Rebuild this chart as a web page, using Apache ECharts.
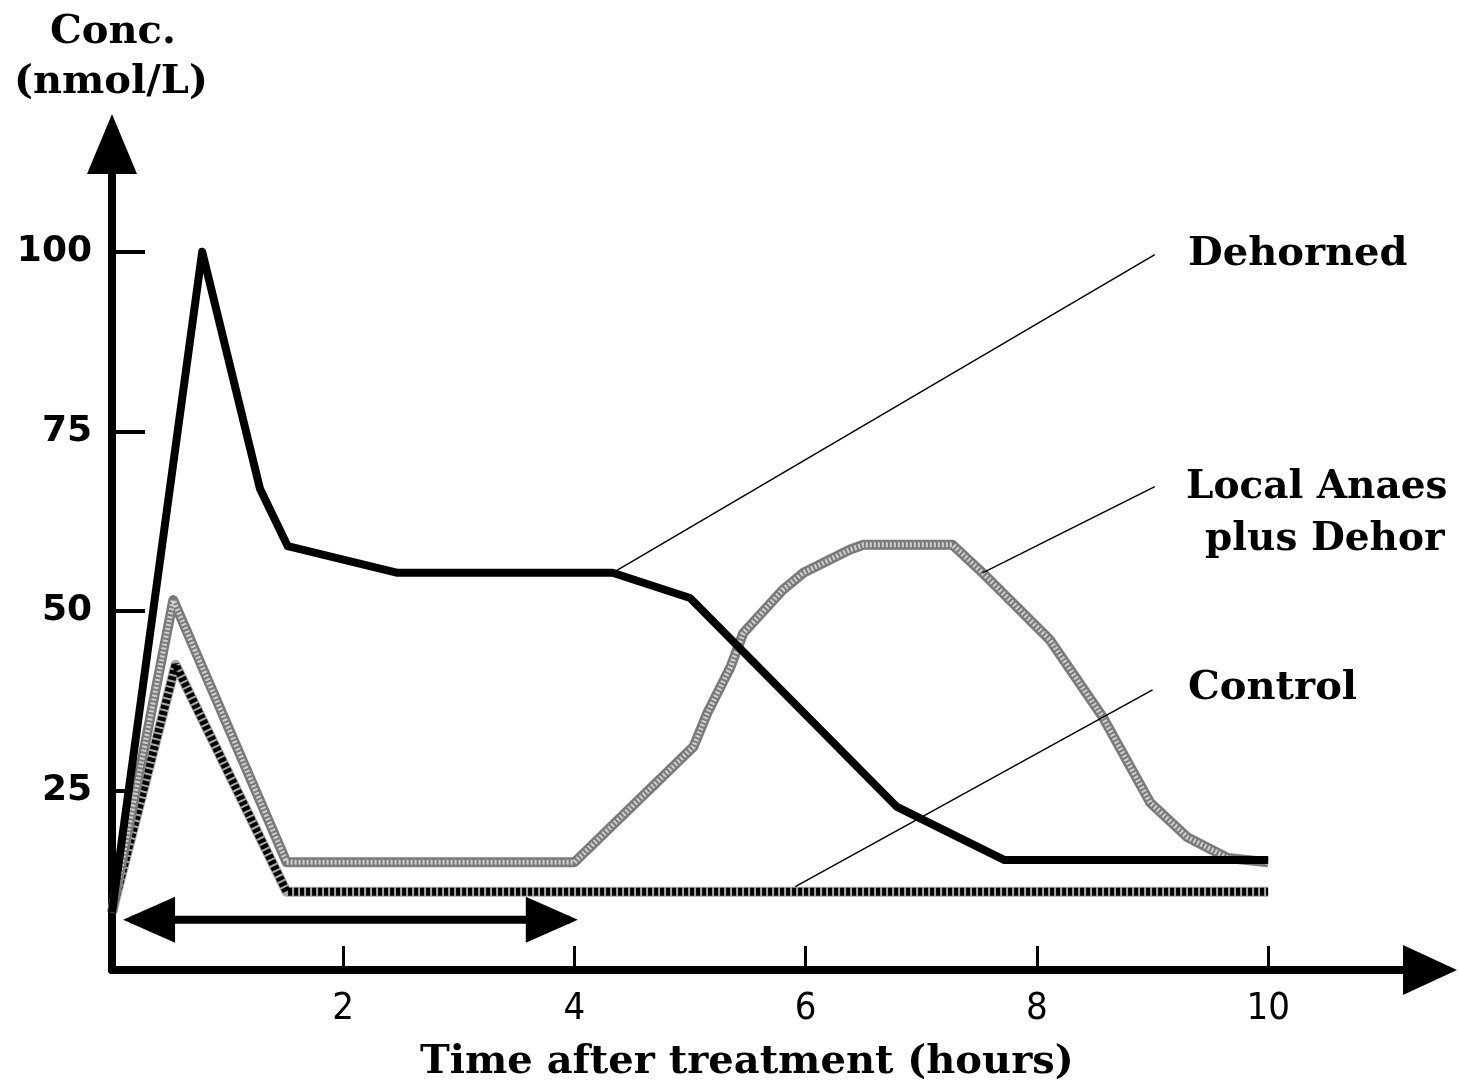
<!DOCTYPE html>
<html>
<head>
<meta charset="utf-8">
<style>
  html, body { margin: 0; padding: 0; background: #ffffff; }
  #chart { width: 1459px; height: 1091px; }
</style>
<script src="https://cdn.jsdelivr.net/npm/echarts@6/dist/echarts.min.js"></script>
</head>
<body>
<div id="chart"></div>
<script>
// ---------------- data ----------------
const timeDehorned = [0, 0.78, 1.28, 1.52, 2.47, 4.33, 5.0, 6.79, 7.72, 10.0];
const concDehorned = [8, 100, 67, 59, 55.3, 55.3, 51.8, 22.7, 15.3, 15.3];

const timeLocal = [0, 0.53, 1.51, 4.0, 5.03, 5.15, 5.35, 5.46, 5.8, 5.98, 6.38, 6.5, 7.27, 7.53, 8.11, 8.57, 8.98, 9.3, 9.65, 10.0];
const concLocal = [8, 51.5, 15, 15, 31.1, 35.8, 42.2, 46.9, 52.9, 55.3, 58.5, 59.2, 59.2, 55.3, 46, 35.2, 23.3, 18.5, 15.6, 15];

const timeControl = [0, 0.55, 1.51, 10.0];
const concControl = [8, 42.5, 10.9, 10.9];

// label leader lines: [time, conc] start (on curve) and end (near label)
const leaderDehorned = [[4.33, 55.3], [9.02, 99.6]];
const leaderLocal = [[7.53, 55.3], [9.02, 67.3]];
const leaderControl = [[5.91, 11.6], [9.0, 39.0]];

// treatment-period double arrow
const arrowSpan = [0.165, 3.96];
const arrowLevel = 7;

const yTicks = [25, 50, 75, 100];
const xTicks = [2, 4, 6, 8, 10];

const labelDehorned = 'Dehorned';
const labelLocal1 = 'Local Anaes';
const labelLocal2 = 'plus Dehor';
const labelControl = 'Control';
const yName1 = 'Conc.';
const yName2 = '(nmol/L)';
const xName = 'Time after treatment (hours)';

// ---------------- helpers ----------------
function zip(xs, ys) { return xs.map((x, i) => [x, ys[i]]); }

const serifBold = '"DejaVu Serif", "Liberation Serif", serif';

const chart = echarts.init(document.getElementById('chart'), null, { renderer: 'canvas' });

const option = {
  backgroundColor: '#ffffff',
  animation: false,
  grid: { left: 112, right: 29, top: 144, bottom: 121, containLabel: false, outerBoundsMode: 'none' },
  xAxis: {
    type: 'value',
    min: 0, max: 11.4,
    axisLine: {
      show: true, onZero: false,
      symbol: ['none', 'triangle'], symbolSize: [50, 54],
      lineStyle: { color: '#000', width: 8 }
    },
    axisTick: { show: true, inside: true, length: 24, customValues: xTicks, lineStyle: { color: '#000', width: 3 } },
    axisLabel: {
      show: true, customValues: xTicks, margin: 20,
      color: '#000', fontSize: 38,
      fontFamily: '"DejaVu Sans Condensed", "Liberation Sans Narrow", "DejaVu Sans", sans-serif'
    },
    splitLine: { show: false }
  },
  yAxis: {
    type: 'value',
    min: 0, max: 115,
    axisLine: {
      show: true, onZero: false,
      symbol: ['none', 'triangle'], symbolSize: [50, 60],
      lineStyle: { color: '#000', width: 8 }
    },
    axisTick: { show: true, inside: true, length: 33, customValues: yTicks, lineStyle: { color: '#000', width: 4 } },
    axisLabel: {
      show: true, customValues: yTicks, margin: 20,
      color: '#000', fontSize: 36, fontWeight: 'bold',
      fontFamily: '"DejaVu Sans", sans-serif'
    },
    splitLine: { show: false }
  },
  series: [
    // Control: hatched black band
    { type: 'line', data: zip(timeControl, concControl), symbol: 'none', silent: true,
      lineStyle: { color: '#a8a8a8', width: 10, join: 'round' } },
    { type: 'line', data: zip(timeControl, concControl), symbol: 'none', silent: true,
      lineStyle: { color: '#000', width: 8, type: [4, 2], cap: 'butt' } },
    // Local anaesthetic plus dehorning: grey checkered band
    { type: 'line', data: zip(timeLocal, concLocal), symbol: 'none', silent: true,
      lineStyle: { color: '#7a7a7a', width: 10, join: 'round' } },
    { type: 'line', data: zip(timeLocal, concLocal), symbol: 'none', silent: true,
      lineStyle: { color: '#cfcfcf', width: 5, type: [2, 2], cap: 'butt' } },
    // Dehorned: solid thick black
    { type: 'line', data: zip(timeDehorned, concDehorned), symbol: 'none', silent: true,
      lineStyle: { color: '#000', width: 8, join: 'round' } },
    // leader lines
    { type: 'line', data: leaderDehorned, symbol: 'none', silent: true, lineStyle: { color: '#000', width: 1.5 } },
    { type: 'line', data: leaderLocal, symbol: 'none', silent: true, lineStyle: { color: '#000', width: 1.5 } },
    { type: 'line', data: leaderControl, symbol: 'none', silent: true, lineStyle: { color: '#000', width: 1.5 } },
    // double arrow shaft
    { type: 'line', data: arrowSpan.map(t => [t, arrowLevel]), symbol: 'none', silent: true,
      lineStyle: { color: '#000', width: 8, cap: 'butt' } },
    // arrow heads
    { type: 'scatter', silent: true, symbol: 'triangle', symbolSize: [46, 52],
      itemStyle: { color: '#000', opacity: 1 },
      data: [
        { value: [arrowSpan[0], arrowLevel], symbolRotate: 90, symbolOffset: [18, 0] },
        { value: [arrowSpan[1], arrowLevel], symbolRotate: -90, symbolOffset: [-18, 0] }
      ] }
  ],
  graphic: [
    { type: 'text', left: 50, top: 13, style: { text: yName1, font: 'bold 40px ' + serifBold, fill: '#000' } },
    { type: 'text', left: 14, top: 63, style: { text: yName2, font: 'bold 40px ' + serifBold, fill: '#000' } },
    { type: 'text', left: 1188, top: 235, style: { text: labelDehorned, font: 'bold 40px ' + serifBold, fill: '#000' } },
    { type: 'text', left: 1186, top: 468, style: { text: labelLocal1, font: 'bold 39px ' + serifBold, fill: '#000' } },
    { type: 'text', left: 1205, top: 520, style: { text: labelLocal2, font: 'bold 39px ' + serifBold, fill: '#000' } },
    { type: 'text', left: 1188, top: 669, style: { text: labelControl, font: 'bold 40px ' + serifBold, fill: '#000' } },
    { type: 'text', left: 420, top: 1043, style: { text: xName, font: 'bold 40px ' + serifBold, fill: '#000' } }
  ]
};

chart.setOption(option);
</script>
</body>
</html>
